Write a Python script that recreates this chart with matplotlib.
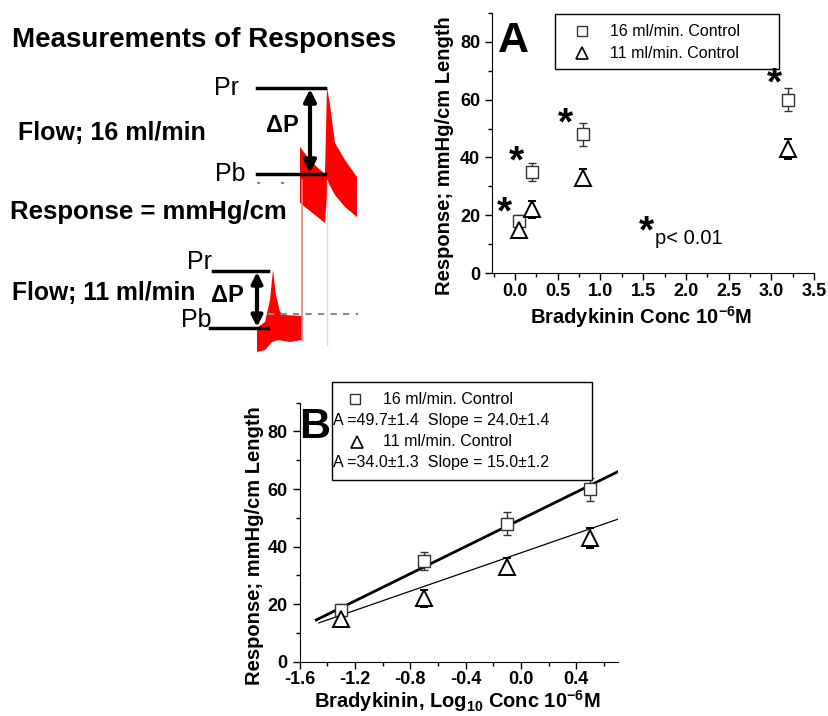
import matplotlib
matplotlib.use("Agg")
import matplotlib.pyplot as plt
from matplotlib.lines import Line2D
from matplotlib.patches import Rectangle, Polygon
from matplotlib.ticker import MultipleLocator
from matplotlib.transforms import offset_copy

plt.rcParams['font.family'] = ['Liberation Sans', 'DejaVu Sans']
plt.rcParams['mathtext.fontset'] = 'custom'
plt.rcParams['mathtext.rm'] = 'Liberation Sans:bold'
plt.rcParams['mathtext.bf'] = 'Liberation Sans:bold'
plt.rcParams['mathtext.default'] = 'bf'
plt.rcParams['axes.unicode_minus'] = False

# data
conc = [0.05, 0.2, 0.8, 3.2]                 # bradykinin, 10^-6 M
log_conc = [-1.3, -0.7, -0.1, 0.5]           # log10 of conc
resp16 = [18, 35, 48, 60]
err16 = [2, 3, 4, 4]
resp11 = [15, 22, 33, 43]
err11 = [3, 3, 3, 3.5]
fit16_x = [-1.48, 0.70]
fit16_y = [14.5, 66.0]
fit11_x = [-1.46, 0.70]
fit11_y = [13.5, 49.5]
star_x = [-0.12, 0.02, 0.59, 3.04]
star_y = [22.8, 40.2, 53.5, 67.4]
labels = ['16 ml/min. Control', '11 ml/min. Control']
fit_txt = ['A =49.7±1.4  Slope = 24.0±1.4', 'A =34.0±1.3  Slope = 15.0±1.2']

fig = plt.figure(figsize=(8.29, 7.16), dpi=100)
axA = fig.add_axes([0.5935, 0.6187, 0.3884, 0.3631])
axB = fig.add_axes([0.3614, 0.0758, 0.3837, 0.3618])

sq = dict(marker='s', ms=8, mfc='white', mec='#333333', mew=1.0, ls='none',
          ecolor='#333333', elinewidth=1, capsize=3, capthick=1)
tri = dict(marker='^', ms=11, mfc='white', mec='black', mew=1.4, ls='none',
           ecolor='black', elinewidth=1, capsize=3, capthick=1)


def style(ax, xmaj, xmin):
    for s in ['top', 'right']:
        ax.spines[s].set_visible(False)
    ax.set_ylim(0, 90)
    ax.yaxis.set_major_locator(MultipleLocator(20))
    ax.yaxis.set_minor_locator(MultipleLocator(10))
    ax.xaxis.set_major_locator(MultipleLocator(xmaj))
    ax.xaxis.set_minor_locator(MultipleLocator(xmin))
    ax.tick_params(which='major', length=5, width=1, labelsize=13)
    ax.tick_params(which='minor', length=3, width=1)
    ax.tick_params(axis='x', pad=2)
    for t in ax.get_xticklabels() + ax.get_yticklabels():
        t.set_fontweight('bold')


# panel A
axA.errorbar(conc, resp16, yerr=err16, **sq)
axA.errorbar(conc, resp11, yerr=err11, **tri)
axA.set_xlim(-0.27, 3.5)
style(axA, 0.5, 0.25)
axA.xaxis.set_major_formatter(lambda v, p: f'{v:.1f}')
for t in axA.get_xticklabels() + axA.get_yticklabels():
    t.set_fontweight('bold')
axA.set_ylabel('Response; mmHg/cm Length', fontsize=14.5, fontweight='bold')
axA.yaxis.set_label_coords(-0.118, 0.45)
axA.set_xlabel(r'Bradykinin Conc 10$^{-6}$M', fontsize=14.5, fontweight='bold')
axA.xaxis.set_label_coords(0.463, -0.118)
star_tr = offset_copy(axA.transData, fig=fig, x=0, y=-6, units='dots')
for x, y in zip(star_x, star_y):
    axA.text(x, y, '*', fontsize=28, fontweight='bold', ha='center', va='center',
             transform=star_tr)
axA.text(1.54, 16, '*', fontsize=28, fontweight='bold', ha='center', va='center',
         transform=star_tr)
axA.text(1.635, 12.1, 'p< 0.01', fontsize=14.5, ha='left', va='center')

# panel B
axB.plot(fit16_x, fit16_y, color='black', lw=2)
axB.plot(fit11_x, fit11_y, color='black', lw=0.9)
axB.errorbar(log_conc, resp16, yerr=err16, **sq)
axB.errorbar(log_conc, resp11, yerr=err11, **tri)
axB.set_xlim(-1.6, 0.7)
style(axB, 0.4, 0.2)
axB.set_ylabel('Response; mmHg/cm Length', fontsize=14.5, fontweight='bold')
axB.yaxis.set_label_coords(-0.112, 0.45)
axB.set_xlabel(r'Bradykinin, Log$_{10}$ Conc 10$^{-6}$M', fontsize=14.5,
               fontweight='bold')
axB.xaxis.set_label_coords(0.496, -0.1)

# overlay in pixel coordinates for the schematic and legends
ov = fig.add_axes([0, 0, 1, 1], zorder=10)
ov.set_xlim(0, 829)
ov.set_ylim(716, 0)
ov.axis('off')
ov.patch.set_alpha(0)

# legend A
ov.add_patch(Rectangle((555, 14), 224, 55, fill=False, ec='black', lw=1))
ov.add_line(Line2D([582], [31], marker='s', ms=7.5, mfc='white', mec='#333333'))
ov.add_line(Line2D([582], [53], marker='^', ms=9, mfc='white', mec='black', mew=1.2))
ov.text(610, 31, labels[0], fontsize=11.5, va='center')
ov.text(610, 53, labels[1], fontsize=11.5, va='center')
ov.text(513, 52, 'A', fontsize=31, fontweight='bold', ha='center', va='baseline')

# legend B
ov.add_patch(Rectangle((332, 382), 260, 98, fc='white', ec='black', lw=1))
ov.add_line(Line2D([355], [399], marker='s', ms=7.5, mfc='white', mec='#333333'))
ov.add_line(Line2D([357], [442], marker='^', ms=9, mfc='white', mec='black', mew=1.2))
ov.text(383, 399, labels[0], fontsize=11.5, va='center')
ov.text(333, 421, fit_txt[0], fontsize=11.5, va='center')
ov.text(383, 442, labels[1], fontsize=11.5, va='center')
ov.text(333, 463, fit_txt[1], fontsize=11.5, va='center')
ov.text(315, 438, 'B', fontsize=31, fontweight='bold', ha='center', va='baseline')

# schematic of pressure traces
ov.text(12, 40, 'Measurements of Responses', fontsize=20, fontweight='bold',
        va='center')
ov.text(18, 133, 'Flow; 16 ml/min', fontsize=18, fontweight='bold', va='center')
ov.text(10, 212, 'Response = mmHg/cm', fontsize=18.5, fontweight='bold', va='center')
ov.text(12, 293, 'Flow; 11 ml/min', fontsize=17.7, fontweight='bold', va='center')

red_up = [(300, 147), (310, 160), (318, 168), (325, 174), (327, 87), (330, 105),
          (335, 143), (345, 160), (357, 177), (357, 217), (345, 207), (335, 195),
          (328, 182), (325, 223), (315, 215), (300, 203)]
red_low = [(257, 328), (265, 322), (270, 300), (273, 270), (276, 295), (280, 312),
           (285, 315), (302, 316), (302, 340), (290, 342), (278, 340), (272, 342),
           (265, 350), (257, 352)]
ov.add_patch(Polygon(red_up, closed=True, fc='red', ec='none'))
ov.add_patch(Polygon(red_low, closed=True, fc='red', ec='none'))
ov.plot([302, 302], [180, 340], color='#f08080', lw=1.2)
ov.plot([327, 327], [180, 345], color='#fbd0d0', lw=1)

ov.plot([257, 325], [88, 88], color='black', lw=2.5)
ov.plot([257, 325], [174, 174], color='black', lw=2.5)
ov.plot([257, 300], [183, 183], color='#888888', lw=1.5, ls=(0, (1.5, 10)))
ov.annotate('', xy=(310, 89), xytext=(310, 173),
            arrowprops=dict(arrowstyle='<|-|>', color='black', lw=3,
                            mutation_scale=18, shrinkA=0, shrinkB=0))
ov.text(227, 88, 'Pr', fontsize=18, ha='center', va='center')
ov.text(230, 174, 'Pb', fontsize=18, ha='center', va='center')
ov.text(282, 125, 'ΔP', fontsize=17, fontweight='bold', ha='center', va='center')

ov.plot([213, 268], [271, 271], color='black', lw=2.5)
ov.plot([210, 268], [328, 328], color='black', lw=2.5)
ov.plot([268, 358], [314, 314], color='#888888', lw=1.5, ls=(0, (3, 3)))
ov.annotate('', xy=(257, 272), xytext=(257, 327),
            arrowprops=dict(arrowstyle='<|-|>', color='black', lw=3,
                            mutation_scale=16, shrinkA=0, shrinkB=0))
ov.text(200, 262, 'Pr', fontsize=18, ha='center', va='center')
ov.text(196, 320, 'Pb', fontsize=18, ha='center', va='center')
ov.text(227, 296, 'ΔP', fontsize=17, fontweight='bold', ha='center', va='center')

fig.savefig('out.png', dpi=100)
